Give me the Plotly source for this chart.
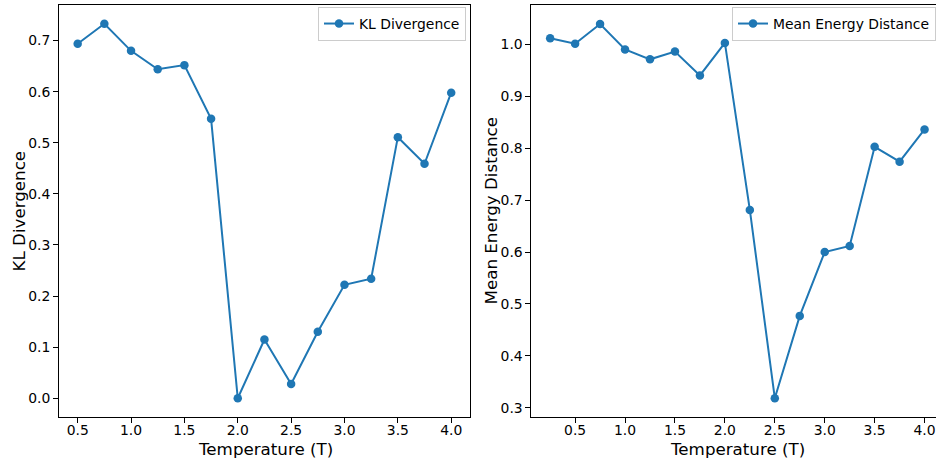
import plotly.graph_objects as go

temps_kl = [0.5, 0.75, 1.0, 1.25, 1.5, 1.75, 2.0, 2.25, 2.5, 2.75, 3.0, 3.25, 3.5, 3.75, 4.0]
kl_values = [0.694, 0.733, 0.680, 0.644, 0.652, 0.547, 0.0, 0.115, 0.028, 0.130, 0.222, 0.234, 0.511, 0.459, 0.598]

temps_ed = [0.25, 0.5, 0.75, 1.0, 1.25, 1.5, 1.75, 2.0, 2.25, 2.5, 2.75, 3.0, 3.25, 3.5, 3.75, 4.0]
ed_values = [1.0115, 1.001, 1.039, 0.990, 0.971, 0.986, 0.940, 1.0025, 0.681, 0.3185, 0.477, 0.600, 0.6115, 0.8025, 0.774, 0.836]

x_ticks = [0.5, 1.0, 1.5, 2.0, 2.5, 3.0, 3.5, 4.0]
x_tick_labels = ["0.5", "1.0", "1.5", "2.0", "2.5", "3.0", "3.5", "4.0"]

x_title = "Temperature (T)"
y_title_left = "KL Divergence"
y_title_right = "Mean Energy Distance"

BLUE = "#1f77b4"
FONT = "DejaVu Sans"

fig = go.Figure()
fig.add_trace(go.Scatter(
    x=temps_kl, y=kl_values, mode="lines+markers", name="KL Divergence",
    line=dict(color=BLUE, width=2), marker=dict(color=BLUE, size=8.5),
    xaxis="x", yaxis="y", legend="legend",
))
fig.add_trace(go.Scatter(
    x=temps_ed, y=ed_values, mode="lines+markers", name="Mean Energy Distance",
    line=dict(color=BLUE, width=2), marker=dict(color=BLUE, size=8.5),
    xaxis="x2", yaxis="y2", legend="legend2",
))

tickfont = dict(family=FONT, size=13.9, color="black")
titlefont = dict(family=FONT, size=16.7, color="black")

common_x = dict(
    showgrid=False, zeroline=False, showline=True, linecolor="black", linewidth=1,
    ticks="outside", ticklen=5, tickwidth=1, tickcolor="black",
    tickvals=x_ticks, ticktext=x_tick_labels, tickfont=tickfont,
    ticklabelstandoff=-5,
    mirror=True,
)
common_y = dict(
    showgrid=False, zeroline=False, showline=True, linecolor="black", linewidth=1,
    ticks="outside", ticklen=5, tickwidth=1, tickcolor="black",
    dtick=0.1, tickformat=".1f", tickfont=tickfont,
)

L, R, T, B = 59, 0, 5, 43
W, H = 936, 460
pw = W - L - R
ph = H - T - B

def px_x(p):
    return (p - L) / pw

def px_y(p):
    return (H - B - p) / ph

annotations = [
    dict(text=x_title, x=px_x(265), y=px_y(449), xref="paper", yref="paper",
         xanchor="center", yanchor="middle", showarrow=False, font=titlefont),
    dict(text=x_title, x=px_x(737.5), y=px_y(449), xref="paper", yref="paper",
         xanchor="center", yanchor="middle", showarrow=False, font=titlefont),
    dict(text=y_title_left, x=px_x(18.5), y=px_y(211), xref="paper", yref="paper",
         xanchor="center", yanchor="middle", showarrow=False, font=titlefont, textangle=-90),
    dict(text=y_title_right, x=px_x(490.5), y=px_y(211), xref="paper", yref="paper",
         xanchor="center", yanchor="middle", showarrow=False, font=titlefont, textangle=-90),
]

legend_style = dict(
    yanchor="top", bordercolor="#cccccc", borderwidth=1,
    bgcolor="rgba(255,255,255,0.8)",
    font=dict(family=FONT, size=13.9, color="black"),
)

fig.update_layout(
    width=W, height=H,
    margin=dict(l=L, r=R, t=T, b=B),
    paper_bgcolor="white", plot_bgcolor="white",
    font=dict(family=FONT, color="black"),
    xaxis=dict(common_x, domain=[0, 0.4685], range=[0.325, 4.175], anchor="y"),
    yaxis=dict(common_y, range=[-0.0367, 0.7697], anchor="x", mirror=True),
    xaxis2=dict(common_x, domain=[0.5387, 1.0], range=[0.0625, 4.1146], anchor="y2"),
    yaxis2=dict(common_y, range=[0.2823, 1.0756], anchor="x2", tick0=0.3),
    legend=dict(legend_style, x=px_x(466), y=px_y(7), xanchor="right"),
    legend2=dict(legend_style, x=1.0, y=px_y(7), xanchor="right"),
    annotations=annotations,
    showlegend=True,
)

fig.write_html("out.html", config={"displayModeBar": False})
